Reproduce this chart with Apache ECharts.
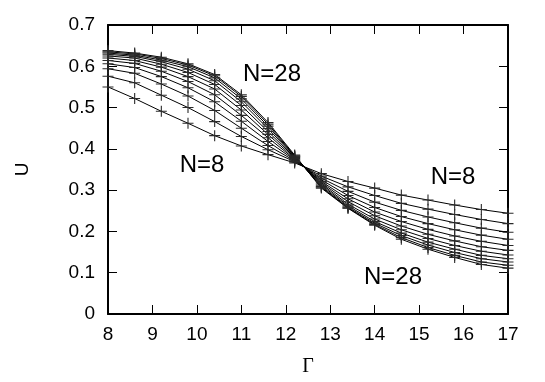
<!DOCTYPE html>
<html>
<head>
<meta charset="utf-8">
<script src="https://cdn.jsdelivr.net/npm/echarts@6/dist/echarts.min.js"></script>
<style>
  html, body { margin: 0; padding: 0; background: #fff; }
  #chart { width: 545px; height: 382px; }
</style>
</head>
<body>
<div id="chart"></div>
<script>
// Gamma values where the points were taken
const gammas = [8, 8.6, 9.2, 9.8, 10.4, 11.0, 11.6, 12.2, 12.8, 13.4, 14.0, 14.6, 15.2, 15.8, 16.4, 17]

// U for each system size
const uN8 = [0.550, 0.522, 0.491, 0.462, 0.432, 0.407, 0.386, 0.366, 0.340, 0.321, 0.305, 0.288, 0.276, 0.264, 0.253, 0.244]
const uN10 = [0.576, 0.560, 0.530, 0.500, 0.466, 0.430, 0.398, 0.369, 0.334, 0.308, 0.287, 0.268, 0.254, 0.241, 0.229, 0.219]
const uN12 = [0.594, 0.583, 0.557, 0.528, 0.493, 0.450, 0.408, 0.371, 0.329, 0.297, 0.271, 0.251, 0.235, 0.221, 0.208, 0.198]
const uN14 = [0.606, 0.597, 0.575, 0.548, 0.514, 0.467, 0.418, 0.373, 0.325, 0.287, 0.258, 0.236, 0.219, 0.204, 0.191, 0.181]
const uN16 = [0.614, 0.607, 0.588, 0.563, 0.531, 0.481, 0.427, 0.375, 0.321, 0.279, 0.247, 0.224, 0.205, 0.189, 0.176, 0.166]
const uN18 = [0.620, 0.614, 0.598, 0.575, 0.545, 0.494, 0.435, 0.377, 0.318, 0.272, 0.238, 0.213, 0.193, 0.177, 0.163, 0.154]
const uN20 = [0.625, 0.620, 0.605, 0.585, 0.556, 0.505, 0.442, 0.379, 0.315, 0.266, 0.230, 0.204, 0.183, 0.166, 0.152, 0.143]
const uN22 = [0.629, 0.624, 0.611, 0.593, 0.565, 0.514, 0.449, 0.381, 0.312, 0.262, 0.224, 0.196, 0.174, 0.157, 0.142, 0.134]
const uN24 = [0.632, 0.627, 0.615, 0.599, 0.572, 0.521, 0.455, 0.382, 0.309, 0.259, 0.220, 0.190, 0.167, 0.149, 0.134, 0.126]
const uN26 = [0.635, 0.630, 0.619, 0.603, 0.577, 0.527, 0.460, 0.383, 0.307, 0.257, 0.217, 0.185, 0.161, 0.142, 0.126, 0.118]
const uN28 = [0.638, 0.632, 0.622, 0.606, 0.580, 0.531, 0.464, 0.385, 0.305, 0.256, 0.215, 0.181, 0.157, 0.137, 0.120, 0.111]

const sizes = ['N=8', 'N=10', 'N=12', 'N=14', 'N=16', 'N=18', 'N=20', 'N=22', 'N=24', 'N=26', 'N=28']
const curves = [uN8, uN10, uN12, uN14, uN16, uN18, uN20, uN22, uN24, uN26, uN28]

const xTicks = [8, 9, 10, 11, 12, 13, 14, 15, 16, 17]
const yTicks = [0, 0.1, 0.2, 0.3, 0.4, 0.5, 0.6, 0.7]

// "+" marker
const plus = 'path://M-0.1,-1 L0.1,-1 L0.1,-0.1 L1,-0.1 L1,0.1 L0.1,0.1 L0.1,1 L-0.1,1 L-0.1,0.1 L-1,0.1 L-1,-0.1 L-0.1,-0.1 Z'

const font = 'Liberation Sans'

const axisCommon = {
  type: 'value',
  axisLine: { show: true, onZero: false, lineStyle: { color: '#000', width: 2 } },
  axisTick: { show: true, inside: true, length: 9, lineStyle: { color: '#000', width: 1 } },
  splitLine: { show: false }
}

const xAxisBase = Object.assign({}, axisCommon, {
  min: xTicks[0],
  max: xTicks[xTicks.length - 1],
  interval: 1
})
const yAxisBase = Object.assign({}, axisCommon, {
  min: yTicks[0],
  max: yTicks[yTicks.length - 1],
  interval: 0.1
})

const chart = echarts.init(document.getElementById('chart'))

chart.setOption({
  animation: false,
  backgroundColor: '#fff',
  grid: { left: 108, right: 37, top: 25, bottom: 64, containLabel: false },
  xAxis: [
    Object.assign({}, xAxisBase, {
      position: 'bottom',
      name: 'Γ',
      nameLocation: 'middle',
      nameGap: 43,
      nameTextStyle: { fontFamily: 'Liberation Serif', fontSize: 20, color: '#000' },
      axisLabel: { margin: 11, fontFamily: font, fontSize: 19, color: '#000' }
    }),
    Object.assign({}, xAxisBase, {
      position: 'top',
      axisLabel: { show: false }
    })
  ],
  yAxis: [
    Object.assign({}, yAxisBase, {
      position: 'left',
      name: 'U',
      nameLocation: 'middle',
      nameRotate: 90,
      nameGap: 76,
      nameTextStyle: { fontFamily: font, fontSize: 19, color: '#000' },
      axisLabel: {
        margin: 13,
        fontFamily: font,
        fontSize: 19,
        color: '#000',
        formatter: v => (v === 0 ? '0' : v.toFixed(1))
      }
    }),
    Object.assign({}, yAxisBase, {
      position: 'right',
      axisLabel: { show: false }
    })
  ],
  series: curves.map((vals, i) => ({
    name: sizes[i],
    type: 'line',
    xAxisIndex: 0,
    yAxisIndex: 0,
    data: gammas.map((g, j) => [g, vals[j]]),
    symbol: plus,
    symbolSize: 11,
    showAllSymbol: true,
    lineStyle: { color: '#000', width: 1 },
    itemStyle: { color: '#2a2a2a', borderWidth: 0 },
    silent: true
  })),
  graphic: [
    { type: 'text', x: 272, y: 74, style: { text: 'N=28', font: '24px ' + font, fill: '#000', align: 'center', verticalAlign: 'middle' } },
    { type: 'text', x: 202, y: 165, style: { text: 'N=8', font: '24px ' + font, fill: '#000', align: 'center', verticalAlign: 'middle' } },
    { type: 'text', x: 453, y: 177, style: { text: 'N=8', font: '24px ' + font, fill: '#000', align: 'center', verticalAlign: 'middle' } },
    { type: 'text', x: 393, y: 277, style: { text: 'N=28', font: '24px ' + font, fill: '#000', align: 'center', verticalAlign: 'middle' } }
  ]
})
</script>
</body>
</html>
